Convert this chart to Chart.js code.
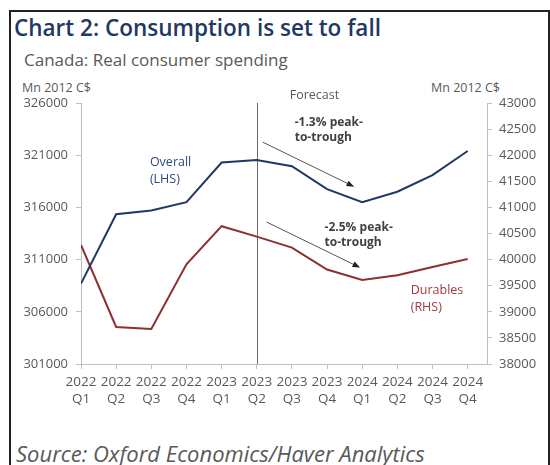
<!DOCTYPE html>
<html>
<head>
<meta charset="utf-8">
<script src="https://cdn.jsdelivr.net/npm/chart.js@4/dist/chart.umd.min.js"></script>
<style>
  body { margin: 0; background: #fff; }
  #wrap { position: relative; width: 550px; height: 465px; overflow: hidden; background: #fff; font-family: "Open Sans", sans-serif; }
  #frame { position: absolute; left: 9px; top: 10px; width: 537px; height: 470px; border: 2px solid #222; }
  .txt { position: absolute; white-space: nowrap; }
  #title { left: 14px; top: 12px; font-size: 22.5px; font-weight: 600; color: #1f3864; }
  #sub { left: 24px; top: 48px; font-size: 17px; color: #595959; }
  #unitL { left: 22px; top: 79px; font-size: 12.5px; color: #595959; }
  #unitR { left: 431px; top: 79px; font-size: 12.5px; color: #595959; }
  #source { left: 16px; top: 438px; font-size: 22px; font-style: italic; color: #595959; }
  canvas { position: absolute; left: 0; top: 0; }
</style>
</head>
<body>
<div id="wrap">
  <div id="frame"></div>
  <div class="txt" id="title">Chart 2: Consumption is set to fall</div>
  <div class="txt" id="sub">Canada: Real consumer spending</div>
  <div class="txt" id="unitL">Mn 2012 C$</div>
  <div class="txt" id="unitR">Mn 2012 C$</div>
  <div class="txt" id="source">Source: Oxford Economics/Haver Analytics</div>
  <canvas id="chart" width="550" height="465"></canvas>
</div>
<script>
// quarters 2022Q1 .. 2024Q4 (2023Q2 onward is forecast)
const years = ['2022', '2022', '2022', '2022', '2023', '2023', '2023', '2023', '2024', '2024', '2024', '2024'];
const quarters = ['Q1', 'Q2', 'Q3', 'Q4', 'Q1', 'Q2', 'Q3', 'Q4', 'Q1', 'Q2', 'Q3', 'Q4'];
// Mn 2012 C$
const overall = [308700, 315350, 315700, 316500, 320300, 320550, 319950, 317750, 316500, 317500, 319100, 321400];
const durables = [40280, 38710, 38670, 39910, 40640, 40440, 40230, 39810, 39610, 39700, 39860, 40010];
const leftTicks = { min: 301000, max: 326000, step: 5000 };
const rightTicks = { min: 38000, max: 43000, step: 500 };
const forecastStart = 5;

const NAVY = '#1f3864';
const RED = '#8e2f2f';
const GREY = '#595959';
const AXIS = '#bfbfbf';
const FONT = '"Open Sans", sans-serif';

// notes drawn over the plot, in data units
const arrows = [
  { axis: 'yL', x0: 5.17, y0: 322250, x1: 7.73, y1: 318050 },
  { axis: 'yR', x0: 5.28, y0: 40720, x1: 7.9, y1: 39860 }
];
const notes = [
  { axis: 'yL', x: 6.08, y: 324100, lines: ['-1.3% peak-', 'to-trough'], color: '#404040', bold: true, gap: 15 },
  { axis: 'yR', x: 6.93, y: 40605, lines: ['-2.5% peak-', 'to-trough'], color: '#404040', bold: true, gap: 15 },
  { axis: 'yL', x: 1.96, y: 320350, lines: ['Overall', '(LHS)'], color: '#2e4a7d', bold: false, gap: 17.5 },
  { axis: 'yR', x: 9.38, y: 39400, lines: ['Durables', '(RHS)'], color: '#a33b3b', bold: false, gap: 17 }
];

const overlay = {
  id: 'overlay',
  beforeDatasetsDraw(chart) {
    const { ctx, chartArea, scales } = chart;
    const fx = scales.x.getPixelForValue(forecastStart);
    ctx.save();
    ctx.strokeStyle = '#6b6b6b';
    ctx.lineWidth = 1;
    ctx.beginPath();
    ctx.moveTo(Math.round(fx) + 0.5, chartArea.top);
    ctx.lineTo(Math.round(fx) + 0.5, chartArea.bottom);
    ctx.stroke();
    ctx.fillStyle = GREY;
    ctx.font = '12.5px ' + FONT;
    ctx.textAlign = 'left';
    ctx.textBaseline = 'middle';
    ctx.fillText('Forecast', fx + 33, chartArea.top - 8);
    ctx.restore();
  },
  afterDatasetsDraw(chart) {
    const { ctx, scales } = chart;
    ctx.save();
    arrows.forEach(a => {
      const x0 = scales.x.getPixelForValue(a.x0), y0 = scales[a.axis].getPixelForValue(a.y0);
      const x1 = scales.x.getPixelForValue(a.x1), y1 = scales[a.axis].getPixelForValue(a.y1);
      const ang = Math.atan2(y1 - y0, x1 - x0);
      ctx.strokeStyle = '#555';
      ctx.fillStyle = '#222';
      ctx.lineWidth = 1;
      ctx.beginPath();
      ctx.moveTo(x0, y0);
      ctx.lineTo(x1, y1);
      ctx.stroke();
      ctx.beginPath();
      ctx.moveTo(x1 + 1.5 * Math.cos(ang), y1 + 1.5 * Math.sin(ang));
      ctx.lineTo(x1 - 6 * Math.cos(ang) + 3 * Math.sin(ang), y1 - 6 * Math.sin(ang) - 3 * Math.cos(ang));
      ctx.lineTo(x1 - 6 * Math.cos(ang) - 3 * Math.sin(ang), y1 - 6 * Math.sin(ang) + 3 * Math.cos(ang));
      ctx.closePath();
      ctx.fill();
    });
    notes.forEach(n => {
      const x = scales.x.getPixelForValue(n.x), y = scales[n.axis].getPixelForValue(n.y);
      ctx.fillStyle = n.color;
      ctx.font = (n.bold ? '700 12px ' : '12.5px ') + FONT;
      ctx.textAlign = 'left';
      ctx.textBaseline = 'middle';
      n.lines.forEach((t, i) => ctx.fillText(t, x, y + i * n.gap));
    });
    ctx.restore();
  }
};

new Chart(document.getElementById('chart'), {
  type: 'line',
  data: {
    datasets: [
      {
        label: 'Overall (LHS)',
        data: overall.map((v, i) => ({ x: i, y: v })),
        yAxisID: 'yL',
        borderColor: NAVY,
        borderWidth: 2,
        pointRadius: 0,
        tension: 0
      },
      {
        label: 'Durables (RHS)',
        data: durables.map((v, i) => ({ x: i, y: v })),
        yAxisID: 'yR',
        borderColor: RED,
        borderWidth: 2,
        pointRadius: 0,
        tension: 0
      }
    ]
  },
  options: {
    responsive: false,
    animation: false,
    devicePixelRatio: 1,
    layout: { padding: { top: 103, left: 0, right: 0, bottom: 0 } },
    plugins: { legend: { display: false }, tooltip: { enabled: false } },
    scales: {
      x: {
        type: 'linear',
        min: 0,
        max: 11.55,
        afterBuildTicks: s => { s.ticks = years.map((_, i) => ({ value: i })); },
        afterFit: s => { s.height = 101; },
        border: { color: AXIS, width: 1 },
        grid: { drawOnChartArea: false, drawTicks: true, tickLength: 5, color: AXIS },
        ticks: {
          autoSkip: false,
          maxRotation: 0,
          padding: 4,
          color: GREY,
          font: { family: FONT, size: 13.5, lineHeight: 1.3 },
          callback: v => [years[v], quarters[v]]
        }
      },
      yL: {
        position: 'left',
        min: leftTicks.min,
        max: leftTicks.max,
        afterFit: s => { s.width = 81; },
        border: { color: AXIS, width: 1 },
        grid: { drawOnChartArea: false, tickLength: 5, color: AXIS },
        ticks: { stepSize: leftTicks.step, padding: 8, color: GREY, font: { family: FONT, size: 13 }, callback: v => String(v) }
      },
      yR: {
        position: 'right',
        min: rightTicks.min,
        max: rightTicks.max,
        afterFit: s => { s.width = 63; },
        border: { color: AXIS, width: 1 },
        grid: { drawOnChartArea: false, tickLength: 5, color: AXIS },
        ticks: { stepSize: rightTicks.step, padding: 7, color: GREY, font: { family: FONT, size: 13 }, callback: v => String(v) }
      }
    }
  },
  plugins: [overlay]
});
</script>
</body>
</html>
